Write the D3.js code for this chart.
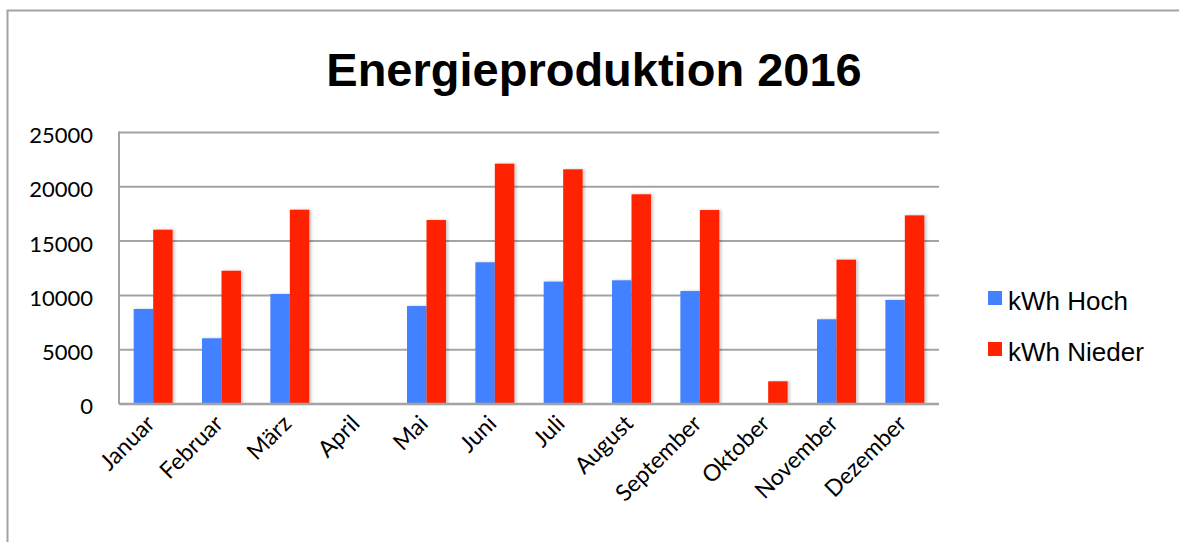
<!DOCTYPE html>
<html>
<head lang="de">
    <meta charset="UTF-8">
    <title>Energieproduktion 2016</title>
    <script type="text/javascript" src="https://cdn.jsdelivr.net/npm/d3@7"></script>
    <style>
        body { margin: 0; background: #fff; }
    </style>
</head>
<body>
<svg id="mainSvg"></svg>
<script>
    var months = ["Januar", "Februar", "März", "April", "Mai", "Juni", "Juli",
        "August", "September", "Oktober", "November", "Dezember"];
    var hoch = [8750, 6050, 10130, 0, 9020, 13050, 11270, 11390, 10400, 0, 7800, 9580];
    var nieder = [16050, 12270, 17890, 0, 16940, 22130, 21610, 19310, 17860, 2090, 13290, 17370];
    var seriesNames = ["kWh Hoch", "kWh Nieder"];
    var seriesColors = ["#4281ff", "#ff2300"];
    var yTicks = [0, 5000, 10000, 15000, 20000, 25000];

    var w = 1179, h = 542;
    var plotL = 119, plotR = 939, plotT = 132.5, plotB = 404;

    var svg = d3.select("#mainSvg").attr("width", w).attr("height", h);

    var defs = svg.append("defs");
    var f = defs.append("filter").attr("id", "shadow")
            .attr("x", "-20%").attr("y", "-5%").attr("width", "150%").attr("height", "110%");
    f.append("feDropShadow").attr("dx", 2).attr("dy", 0).attr("stdDeviation", 1.5)
            .attr("flood-color", "#000").attr("flood-opacity", 0.22);

    // chart frame
    svg.append("path")
            .attr("d", "M7.5,542 V10.5 H1179")
            .attr("fill", "none").attr("stroke", "#a3a3a3").attr("stroke-width", 2);

    svg.append("text")
            .attr("x", 594).attr("y", 86)
            .attr("text-anchor", "middle")
            .attr("font-family", "Liberation Sans, Arial, sans-serif")
            .attr("font-weight", "bold").attr("font-size", 47)
            .text("Energieproduktion 2016");

    var x = d3.scaleBand().domain(months).range([plotL, plotR]).paddingInner(0.43).paddingOuter(0.215);
    var xs = d3.scaleBand().domain(seriesNames).range([0, x.bandwidth()]);
    var y = d3.scaleLinear().domain([0, 25000]).range([plotB, plotT]);

    // grid
    svg.append("g")
            .selectAll("line")
            .data(yTicks.slice(1))
            .enter()
            .append("line")
            .attr("x1", plotL).attr("x2", plotR)
            .attr("y1", function (d) { return y(d); })
            .attr("y2", function (d) { return y(d); })
            .attr("stroke", "#a3a3a3").attr("stroke-width", 2);

    svg.append("line")
            .attr("x1", plotL).attr("x2", plotL).attr("y1", plotT - 1).attr("y2", plotB)
            .attr("stroke", "#a3a3a3").attr("stroke-width", 2);

    var yAxis = d3.axisLeft(y).tickValues(yTicks).tickSize(0).tickPadding(26)
            .tickFormat(d3.format("d"));
    var gy = svg.append("g").attr("transform", "translate(" + plotL + ",0)").call(yAxis);
    gy.select(".domain").remove();
    gy.selectAll("text")
            .attr("font-family", "Lato, sans-serif").attr("font-size", 22)
            .attr("fill", "#000").attr("dy", "0.45em");

    // bars
    var data = months.map(function (m, i) {
        return {month: m, values: [hoch[i], nieder[i]]};
    });
    var groups = svg.append("g")
            .selectAll("g")
            .data(data)
            .enter()
            .append("g")
            .attr("transform", function (d) { return "translate(" + x(d.month) + ",0)"; });
    groups.selectAll("rect")
            .data(function (d) {
                return d.values.map(function (v, j) { return {name: seriesNames[j], value: v, j: j}; });
            })
            .enter()
            .filter(function (d) { return d.value > 0; })
            .append("rect")
            .attr("x", function (d) { return xs(d.name); })
            .attr("y", function (d) { return y(d.value); })
            .attr("width", xs.bandwidth())
            .attr("height", function (d) { return y(0) - y(d.value); })
            .attr("fill", function (d) { return seriesColors[d.j]; })
            .attr("filter", "url(#shadow)");

    // base line
    svg.append("line")
            .attr("x1", plotL).attr("x2", plotR).attr("y1", plotB).attr("y2", plotB)
            .attr("stroke", "#a3a3a3").attr("stroke-width", 2.5);

    // x labels
    svg.append("g")
            .selectAll("text")
            .data(months)
            .enter()
            .append("text")
            .attr("transform", function (d) {
                return "translate(" + (x(d) + x.bandwidth() / 2 + 3) + "," + 425 + ") rotate(-45)";
            })
            .attr("text-anchor", "end")
            .attr("font-family", "Lato, sans-serif").attr("font-size", 23)
            .text(function (d) { return d; });

    // legend
    var lg = svg.append("g")
            .selectAll("g")
            .data(seriesNames)
            .enter()
            .append("g")
            .attr("transform", function (d, i) { return "translate(988," + (291 + i * 51) + ")"; });
    lg.append("rect").attr("width", 14).attr("height", 14)
            .attr("fill", function (d, i) { return seriesColors[i]; });
    lg.append("text").attr("x", 20).attr("y", 18.5)
            .attr("font-family", "Liberation Sans, Arial, sans-serif").attr("font-size", 26)
            .text(function (d) { return d; });
</script>
</body>
</html>
